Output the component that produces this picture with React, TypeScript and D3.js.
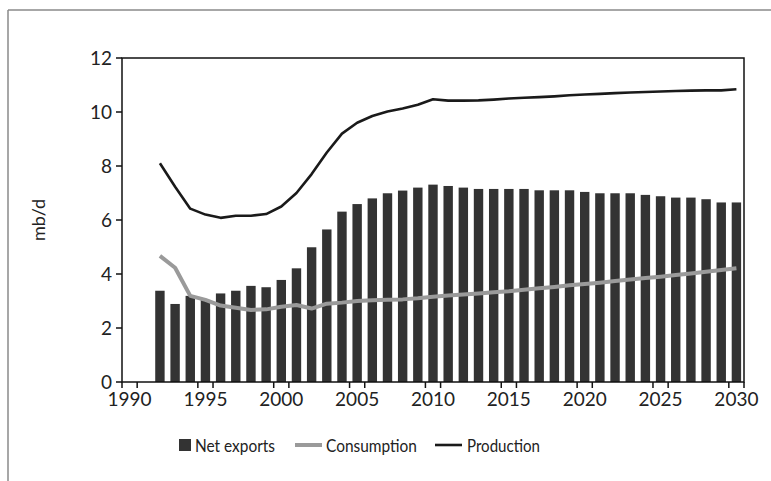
import React from "react";
import * as d3 from "d3";

const years: number[] = d3.range(1990, 2031);
const tickYears: number[] = [1990, 1995, 2000, 2005, 2010, 2015, 2020, 2025, 2030];
const yTicks: number[] = [0, 2, 4, 6, 8, 10, 12];
const seriesYears: number[] = d3.range(1992, 2031);

const netExports: number[] = [
  3.38, 2.89, 3.19, 3.04, 3.28, 3.38, 3.56, 3.51, 3.78, 4.21,
  4.99, 5.65, 6.31, 6.59, 6.8, 6.99, 7.09, 7.2, 7.31, 7.26,
  7.2, 7.15, 7.15, 7.15, 7.15, 7.1, 7.1, 7.1, 7.04, 6.99,
  6.99, 6.99, 6.93, 6.88, 6.83, 6.83, 6.77, 6.65, 6.65,
];
const consumption: number[] = [
  4.67, 4.23, 3.19, 3.04, 2.83, 2.75, 2.67, 2.69, 2.79, 2.85,
  2.72, 2.9, 2.94, 3.0, 3.03, 3.05, 3.06, 3.1, 3.16, 3.2,
  3.24, 3.28, 3.32, 3.36, 3.42, 3.47, 3.52, 3.58, 3.63, 3.68,
  3.74, 3.8, 3.85, 3.9, 3.96, 4.02, 4.08, 4.15, 4.21,
];
const production: number[] = [
  8.1, 7.23, 6.42, 6.2, 6.08, 6.16, 6.16, 6.22, 6.5, 7.0,
  7.7, 8.5, 9.2, 9.6, 9.85, 10.02, 10.13, 10.27, 10.47, 10.42,
  10.42, 10.43, 10.46, 10.5, 10.53, 10.55, 10.58, 10.62, 10.65, 10.67,
  10.7, 10.72, 10.74, 10.76, 10.78, 10.79, 10.8, 10.8, 10.84,
];
const legendLabels: string[] = ["Net exports", "Consumption", "Production"];

const W = 771;
const H = 481;
const left = 122;
const right = 744;
const top = 58;
const bottom = 382;
const FONT = "Lato, 'Liberation Sans', sans-serif";

export default function App() {
  const x = d3
    .scaleBand<number>()
    .domain(years)
    .range([left, right])
    .paddingInner(0.38)
    .paddingOuter(0.19);
  const step = x.step();
  const cx = (yr: number) => (x(yr) as number) + x.bandwidth() / 2;
  const y = d3.scaleLinear().domain([0, 12]).range([bottom, top]);

  const lineGen = d3
    .line<number>()
    .x((_, i) => cx(seriesYears[i]))
    .y((v) => y(v));

  const legendY = 446;

  return (
    <svg
      width={W}
      height={H}
      style={{ position: "absolute", left: 0, top: 0, background: "#fff" }}
      fontFamily={FONT}
    >
      <rect x={0} y={0} width={W} height={H} fill="#fff" />
      {/* outer frame */}
      <line x1={8} y1={10} x2={W} y2={10} stroke="#8a8a8a" strokeWidth={1.5} />
      <line x1={8} y1={10} x2={8} y2={H} stroke="#8a8a8a" strokeWidth={1.5} />

      {/* bars */}
      {seriesYears.map((yr, i) => (
        <rect
          key={yr}
          x={x(yr)}
          y={y(netExports[i])}
          width={x.bandwidth()}
          height={bottom - y(netExports[i])}
          fill="#333333"
        />
      ))}

      {/* lines */}
      <path d={lineGen(consumption) || ""} fill="none" stroke="#9a9a9a" strokeWidth={4} strokeLinejoin="round" />
      <path d={lineGen(production) || ""} fill="none" stroke="#1a1a1a" strokeWidth={2.6} strokeLinejoin="round" />

      {/* plot frame */}
      <rect x={left} y={top} width={right - left} height={bottom - top} fill="none" stroke="#111" strokeWidth={1.5} />

      {/* y ticks */}
      {yTicks.map((t) => (
        <g key={t}>
          <line x1={left - 6} x2={left} y1={y(t)} y2={y(t)} stroke="#111" strokeWidth={1.5} />
          <text x={left - 10} y={y(t)} dy="0.35em" textAnchor="end" fontSize={19} fill="#222">
            {t}
          </text>
        </g>
      ))}

      {/* x ticks */}
      {tickYears.map((yr) => {
        const c = cx(yr);
        return (
          <g key={yr}>
            <line x1={c - step / 2} x2={c - step / 2} y1={bottom} y2={bottom + 6} stroke="#111" strokeWidth={1.5} />
            <line x1={c + step / 2} x2={c + step / 2} y1={bottom} y2={bottom + 6} stroke="#111" strokeWidth={1.5} />
            <text x={c} y={bottom + 24} textAnchor="middle" fontSize={19} fill="#222">
              {yr}
            </text>
          </g>
        );
      })}

      {/* y label */}
      <text
        transform={`translate(45,${(top + bottom) / 2}) rotate(-90)`}
        textAnchor="middle"
        fontSize={18}
        fill="#222"
      >
        mb/d
      </text>

      {/* legend */}
      <rect x={179} y={legendY - 7} width={12} height={12} fill="#333333" />
      <text x={195} y={legendY} dy="0.35em" fontSize={18} fill="#222" textLength={80} lengthAdjust="spacingAndGlyphs">
        {legendLabels[0]}
      </text>
      <line x1={295} x2={322} y1={legendY - 1} y2={legendY - 1} stroke="#9a9a9a" strokeWidth={4} />
      <text x={326} y={legendY} dy="0.35em" fontSize={18} fill="#222" textLength={91} lengthAdjust="spacingAndGlyphs">
        {legendLabels[1]}
      </text>
      <line x1={435} x2={462} y1={legendY - 1} y2={legendY - 1} stroke="#1a1a1a" strokeWidth={2.6} />
      <text x={467} y={legendY} dy="0.35em" fontSize={18} fill="#222" textLength={73} lengthAdjust="spacingAndGlyphs">
        {legendLabels[2]}
      </text>
    </svg>
  );
}
